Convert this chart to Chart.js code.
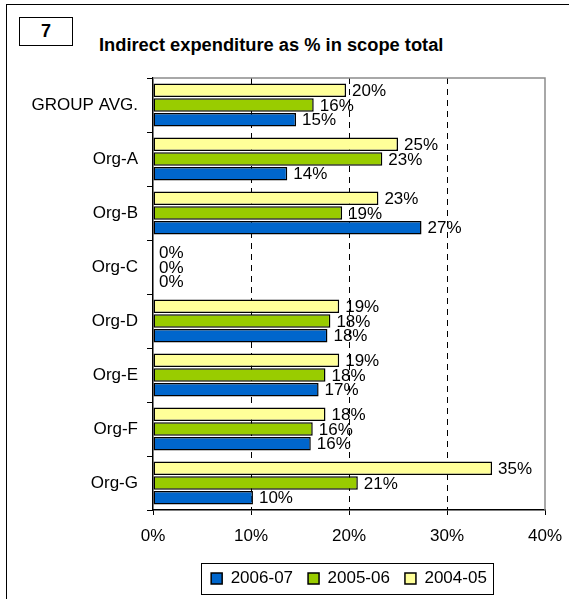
<!DOCTYPE html>
<html>
<head>
<meta charset="utf-8">
<script src="https://cdn.jsdelivr.net/npm/chart.js@4"></script>
<style>
    body { margin: 0; background: #fff; }
    #wrap { position: relative; width: 569px; height: 599px; overflow: hidden; font-family: "Liberation Sans", Arial, sans-serif; }
    #frame { position: absolute; left: 6px; top: 4px; width: 600px; height: 640px; border: 1.5px solid #000; box-sizing: border-box; }
    #num { position: absolute; left: 19px; top: 17px; width: 54px; height: 29px; border: 1.5px solid #000; box-sizing: border-box;
           font-weight: bold; font-size: 18px; line-height: 26px; text-align: center; }
    #title { position: absolute; left: 99px; top: 34px; font-weight: bold; font-size: 18.3px; white-space: nowrap; }
    canvas { position: absolute; left: 0; top: 0; }
</style>
</head>
<body>
<div id="wrap">
    <div id="frame"></div>
    <div id="num">7</div>
    <div id="title">Indirect expenditure as % in scope total</div>
    <canvas id="chart" width="569" height="599"></canvas>
</div>
<script>
const categories = ["GROUP AVG.", "Org-A", "Org-B", "Org-C", "Org-D", "Org-E", "Org-F", "Org-G"];

const values0607 = [14.6, 13.7, 27.4, 0, 17.8, 16.9, 16.1, 10.2];
const values0506 = [16.4, 23.4, 19.3, 0, 18.1, 17.6, 16.3, 20.9];
const values0405 = [19.7, 25.0, 23.0, 0, 19.0, 19.0, 17.6, 34.6];

const xMin = 0;
const xMax = 40;
const xStep = 10;

const font = "'Liberation Sans', Arial, sans-serif";

// % labels at the end of each bar
const barLabels = {
    id: "barLabels",
    afterDatasetsDraw(chart) {
        const ctx = chart.ctx;
        ctx.save();
        ctx.font = "17px " + font;
        ctx.fillStyle = "#000";
        ctx.textBaseline = "middle";
        ctx.textAlign = "left";
        chart.data.datasets.forEach((ds, i) => {
            chart.getDatasetMeta(i).data.forEach((bar, j) => {
                ctx.fillText(Math.round(ds.data[j]) + "%", bar.x + 6, bar.y + 1);
            });
        });
        ctx.restore();
    }
};

// gray top / right edge of the plot area
const plotFrame = {
    id: "plotFrame",
    beforeDatasetsDraw(chart) {
        const { ctx, chartArea: a } = chart;
        ctx.save();
        ctx.strokeStyle = "#8c8c8c";
        ctx.lineWidth = 1.5;
        ctx.beginPath();
        ctx.moveTo(a.left, a.top);
        ctx.lineTo(a.right, a.top);
        ctx.lineTo(a.right, a.bottom);
        ctx.stroke();
        ctx.restore();
    }
};

// box round the legend
const legendFrame = {
    id: "legendFrame",
    afterDraw(chart) {
        const boxes = chart.legend.legendHitBoxes;
        if (!boxes || !boxes.length)
            return;
        const left = Math.min(...boxes.map(b => b.left)) - 10;
        const right = Math.max(...boxes.map(b => b.left + b.width)) + 6;
        const top = boxes[0].top - 7;
        const bottom = boxes[0].top + boxes[0].height + 7;
        const ctx = chart.ctx;
        ctx.save();
        ctx.strokeStyle = "#000";
        ctx.lineWidth = 1;
        ctx.strokeRect(Math.round(left) + .5, Math.round(top) + .5, Math.round(right - left), Math.round(bottom - top));
        ctx.restore();
    }
};

new Chart(document.getElementById("chart"), {

    type: "bar",

    data: {
        labels: categories,
        datasets: [
            {
                label: "2004-05",
                data: values0405,
                backgroundColor: "#ffff99",
                borderColor: "#000",
                borderWidth: 1.5,
                borderSkipped: false
            },
            {
                label: "2005-06",
                data: values0506,
                backgroundColor: "#99cc00",
                borderColor: "#000",
                borderWidth: 1.5,
                borderSkipped: false
            },
            {
                label: "2006-07",
                data: values0607,
                backgroundColor: "#0066cc",
                borderColor: "#000",
                borderWidth: 1.5,
                borderSkipped: false
            }
        ]
    },

    options: {
        indexAxis: "y",
        responsive: false,
        animation: false,
        categoryPercentage: 0.82,
        barPercentage: 0.92,

        layout: {
            padding: { top: 78, right: 24, bottom: 2, left: 0 }
        },

        plugins: {
            tooltip: { enabled: false },
            legend: {
                position: "bottom",
                fullSize: false,
                reverse: true,
                labels: {
                    boxWidth: 11,
                    boxHeight: 11,
                    padding: 15,
                    color: "#000",
                    font: { family: font, size: 17 }
                }
            }
        },

        scales: {
            x: {
                min: xMin,
                max: xMax,
                afterFit: scale => {
                    scale.height = 45;
                    scale.paddingLeft = 0;
                    scale.paddingRight = 0;
                },
                ticks: {
                    stepSize: xStep,
                    padding: 11,
                    color: "#000",
                    font: { family: font, size: 17 },
                    callback: value => value + "%"
                },
                grid: {
                    color: c => (c.tick && c.tick.value > xMin && c.tick.value < xMax) ? "#000" : "rgba(0,0,0,0)",
                    tickColor: "#000",
                    tickLength: 5,
                    lineWidth: 1
                },
                border: {
                    color: "#000",
                    width: 1.5,
                    dash: [6, 5]
                }
            },
            y: {
                afterFit: scale => {
                    scale.width = 153;
                    scale.paddingTop = 0;
                    scale.paddingBottom = 0;
                },
                ticks: {
                    padding: 9,
                    color: "#000",
                    font: { family: font, size: 17 }
                },
                grid: {
                    drawOnChartArea: false,
                    tickColor: "#000",
                    tickLength: 6
                },
                border: {
                    color: "#000",
                    width: 1.5
                }
            }
        }
    },

    plugins: [plotFrame, barLabels, legendFrame]

});
</script>
</body>
</html>
